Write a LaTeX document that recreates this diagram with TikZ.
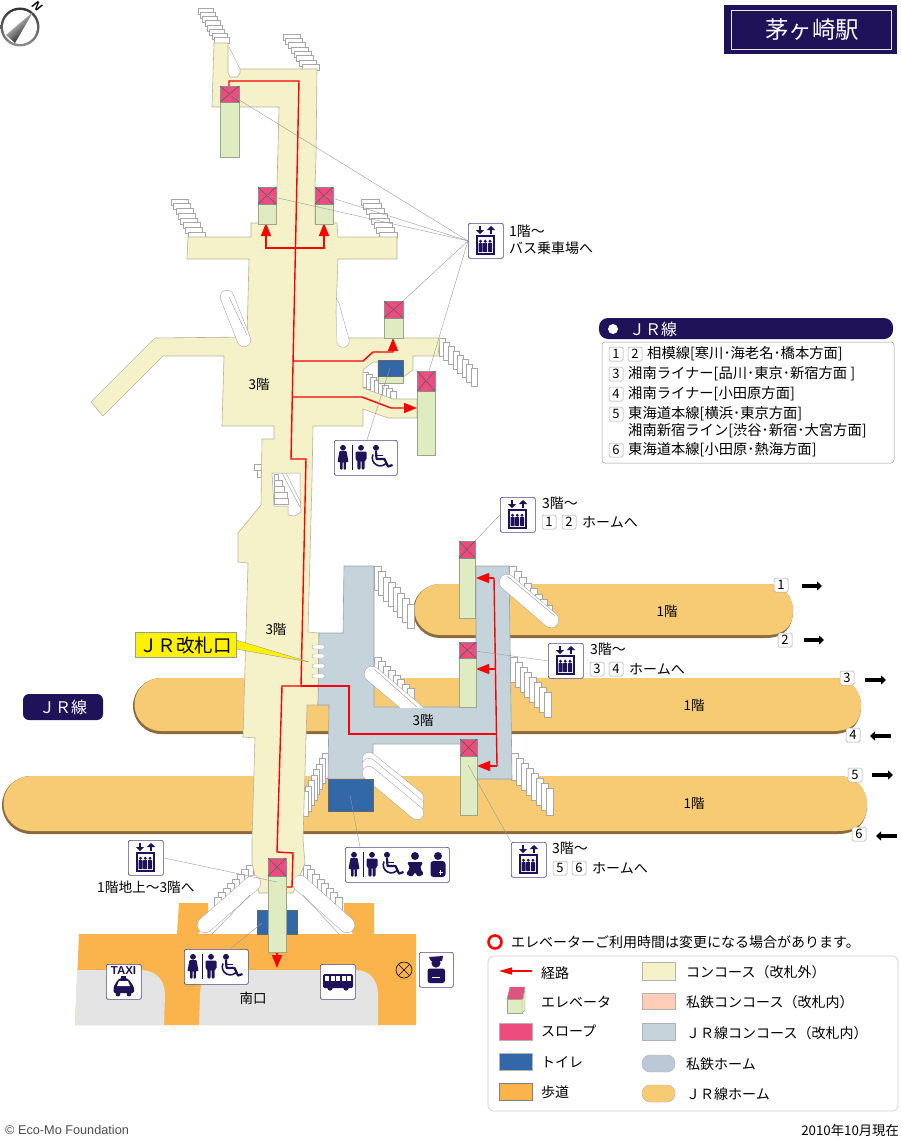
\documentclass[tikz,border=0pt]{standalone}
\usepackage{fontspec}
\setmainfont{Noto Sans CJK JP}
\newfontfamily\latinfont{Liberation Sans}
\usetikzlibrary{arrows.meta}

\definecolor{creamfill}{HTML}{F5F1C8}
\definecolor{creamedge}{HTML}{B5B39A}
\definecolor{jrfill}{HTML}{C5D3DB}
\definecolor{jredge}{HTML}{98A4AB}
\definecolor{homefill}{HTML}{F7CB73}
\definecolor{homeshadow}{HTML}{8B6B3E}
\definecolor{walkfill}{HTML}{FBB34C}
\definecolor{roadfill}{HTML}{E4E4E4}
\definecolor{roofpink}{HTML}{EC4C7E}
\definecolor{liftgreen}{HTML}{DFEBC0}
\definecolor{liftedge}{HTML}{9FA58C}
\definecolor{wcblue}{HTML}{3268A8}
\definecolor{navy}{HTML}{1F1258}
\definecolor{iconedge}{HTML}{4F4488}
\definecolor{peachfill}{HTML}{FFCDB8}
\definecolor{homegrey}{HTML}{BCC8D6}

\tikzset{
	creamarea/.style={fill=creamfill, draw=creamedge, line width=0.6pt},
	jrarea/.style={fill=jrfill, draw=jredge, line width=0.6pt},
	stepbox/.style={fill=white, draw=black!35, line width=0.5pt},
	liftbody/.style={fill=liftgreen, draw=liftedge, line width=0.6pt},
	liftroof/.style={fill=roofpink, draw=black!45, line width=0.5pt},
	wcarea/.style={fill=wcblue, draw=black!60, line width=0.5pt},
	route/.style={draw=red, line width=1.4pt},
	routetip/.style={route, -{Triangle[length=13pt,width=10pt]}},
	leader/.style={draw=black!40, line width=0.4pt},
	iconbox/.style={draw=iconedge, fill=white, rounded corners=2pt, line width=0.7pt, anchor=north west, inner sep=0pt},
	numbox/.style={draw=black!35, fill=white, rounded corners=1.5pt, line width=0.5pt, minimum width=14pt, minimum height=14pt, inner sep=0pt, font=\fontsize{13}{13}\selectfont},
	txt/.style={anchor=west, inner sep=0pt, font=\fontsize{14}{15}\selectfont},
	listtxt/.style={anchor=west, inner sep=0pt, font=\fontsize{14.3}{15}\selectfont},
	floortxt/.style={inner sep=0pt, font=\fontsize{13.5}{15}\selectfont},
	headarrow/.style={line width=3.6pt, -{Triangle[length=5pt,width=9pt]}},
}

\newcommand{\stairs}[7]{
	\foreach \i in {1,...,#5}
		\draw[stepbox] ({#1+(\i-1)*#3},{#2+(\i-1)*#4}) rectangle ++(#6,#7);
}
\newcommand{\escal}[5]{
	\draw[draw=black!35, line width=#5pt, line cap=round] (#1,#2) -- (#3,#4);
	\draw[draw=white, line width=#5pt-1pt, line cap=round] (#1,#2) -- (#3,#4);
}
\newcommand{\liftcar}[6]{
	\draw[liftbody] (#2,#5) rectangle (#3,#6);
	\draw[liftroof] (#2,#4) rectangle (#3,#5);
	\draw[draw=black!65, line width=0.5pt] (#2,#4) -- (#3,#5) (#2,#5) -- (#3,#4);
	\coordinate (#1) at ({(#2+#3)/2},{(#4+#5)/2});
}
\newcommand{\platform}[5]{
	\fill[homeshadow] (#1+#5,#3) -- (#2-#5,#3) .. controls (#2-#5/3,#3) and (#2,#4+#5*0.5) .. (#2,#4+#5) .. controls (#2,#4+#5*1.6) and (#2-#5/3,#4+2*#5) .. (#2-#5,#4+2*#5) -- (#1+#5,#4+2*#5) arc[start angle=90,end angle=270,radius=#5] -- cycle;
	\fill[homefill] (#1+#5,#3) -- (#2-#5,#3) .. controls (#2-#5/3,#3) and (#2,#4+#5*0.5) .. (#2,#4+#5-1) .. controls (#2,#4+#5*1.6) and (#2-#5/3,#4+2*#5-3) .. (#2-#5,#4+2*#5-3) -- (#1+#5,#4+2*#5-3) arc[start angle=90,end angle=270,radius=#5-1.5] -- cycle;
}
\newcommand{\figman}[2]{
	\fill[navy] (#1,#2+2.8) circle (2.9);
	\fill[navy,rounded corners=1.2pt] (#1-5.5,#2+6.5) -- (#1+5.5,#2+6.5) -- (#1+5.5,#2+15) -- (#1+3.6,#2+15) -- (#1+3.6,#2+24.5) -- (#1+0.5,#2+24.5) -- (#1+0.5,#2+15.5) -- (#1-0.5,#2+15.5) -- (#1-0.5,#2+24.5) -- (#1-3.6,#2+24.5) -- (#1-3.6,#2+15) -- (#1-5.5,#2+15) -- cycle;
}
\newcommand{\figwoman}[2]{
	\fill[navy] (#1,#2+2.8) circle (2.9);
	\fill[navy,rounded corners=0.7pt] (#1-3.5,#2+6) -- (#1+3.5,#2+6) -- (#1+5.5,#2+17) -- (#1+2.8,#2+17) -- (#1+2.8,#2+24.5) -- (#1+0.5,#2+24.5) -- (#1+0.5,#2+17) -- (#1-0.5,#2+17) -- (#1-0.5,#2+24.5) -- (#1-2.8,#2+24.5) -- (#1-2.8,#2+17) -- (#1-5.5,#2+17) -- cycle;
}
\newcommand{\figwheel}[2]{
	\fill[navy] (#1+6,#2+2.8) circle (3);
	\draw[navy,line width=2.2pt,line join=round] (#1+6,#2+6) -- (#1+6.5,#2+14) -- (#1+14.5,#2+14) -- (#1+18,#2+21.5) -- (#1+22.5,#2+20);
	\draw[navy,line width=1.8pt] (#1+6,#2+10.5) -- (#1+13,#2+10.5);
	\draw[navy,line width=1.6pt] (#1+3,#2+9.5) arc[start angle=205,end angle=35,radius=8];
}
\newcommand{\figlift}[2]{
	\draw[navy,line width=1.8pt,-{Triangle[length=4pt,width=8pt]}] (#1+12,#2+3) -- (#1+12,#2+11);
	\draw[navy,line width=1.8pt,-{Triangle[length=4pt,width=8pt]}] (#1+23,#2+11) -- (#1+23,#2+3);
	\draw[navy,line width=2pt] (#1+8.5,#2+13) rectangle (#1+26,#2+30.5);
	\foreach \k in {12.5,17.2,22} {
		\fill[navy] (#1+\k,#2+18.2) circle (1.6);
		\fill[navy,rounded corners=0.5pt] (#1+\k-2,#2+20) rectangle (#1+\k+2,#2+29);
	}
}
\newcommand{\iconlift}[3]{
	\node[iconbox, minimum width=35pt, minimum height=35pt] (#1) at (#2,#3) {};
	\figlift{#2}{#3}
}
\newcommand{\iconwc}[4]{
	\node[iconbox, minimum width=#4pt, minimum height=35pt] (#1) at (#2,#3) {};
	\figwoman{#2+9}{#3+5}
	\draw[navy,line width=1pt] (#2+18,#3+5) -- (#2+18,#3+29.5);
	\figman{#2+27}{#3+5}
	\figwheel{#2+36}{#3+5}
}

\begin{document}
\begin{tikzpicture}[x=1pt,y=-1pt]
	\useasboundingbox (0,0) rectangle (900,1140);

	\platform{413}{793}{584}{584}{27}
	\platform{133}{861}{678}{678}{28}
	\platform{2}{867}{776}{776}{29}

	\fill[walkfill] (79,934) -- (177,934) -- (179,903) -- (208,903) -- (208,920) -- (198,934) -- (353,934) -- (344,920) -- (344,903) -- (374,903) -- (374,934) -- (416,934) -- (416,1025) -- (75,1025) -- cycle;
	\fill[roadfill] (77,970) -- (140,970) .. controls (156,970) and (165,980) .. (165,995) -- (164,1025) -- (75,1025) -- cycle;
	\fill[roadfill] (199,1025) -- (200,995) .. controls (200,980) and (208,970) .. (220,970) -- (355,970) .. controls (370,970) and (378,980) .. (378,995) -- (378,1025) -- cycle;

	\stairs{198}{8}{2.3}{4.2}{8}{15}{6}
	\stairs{283}{34}{2.7}{4.3}{8}{17}{6}
	\stairs{171}{199}{2.4}{4.7}{8}{17}{6}
	\stairs{361}{199}{2.6}{4.7}{8}{18}{6}
	\stairs{439}{338}{4.6}{4.3}{8}{6}{18}
	\stairs{362}{372}{4}{2.7}{8}{6}{15}
	\draw[stepbox] (254,464) rectangle ++(8,6);
	\draw[stepbox] (257,470) rectangle ++(5,7);
	\stairs{374}{566}{4.7}{5.4}{8}{7}{24}
	\stairs{374}{657}{4.7}{4.5}{8}{7}{24}
	\stairs{509}{566}{5.2}{5.6}{8}{7}{20}
	\stairs{510}{657}{4.9}{5.1}{8}{7}{25}
	\stairs{511}{753}{5}{5}{8}{7}{27}
	\stairs{322}{753}{-2.8}{5.5}{8}{6}{25}
	\stairs{246}{865}{-4.6}{4.6}{8}{7}{20}
	\stairs{303}{865}{4.6}{4.6}{8}{7}{20}

	\draw[creamarea] (214,43) -- (228,43) -- (228,73) -- (230,77) -- (237,77) -- (240,73) -- (240,69) -- (317,69) -- (316,157) -- (315,187) -- (315,223) -- (337,223) -- (338,237) -- (397,237) -- (397,259) -- (338,259) -- (336,312) -- (337,338) -- (440,338) -- (438,356) -- (413,356) -- (413,370) -- (403,377) -- (403,383) -- (378,383) -- (378,362) -- (373,362) -- (363,370) -- (363,388) -- (393,399) -- (417,399) -- (417,418) -- (388,418) -- (363,409) -- (363,426) -- (313,426) -- (312,480) -- (308,632) -- (319,633) -- (318,705) -- (307,705) -- (303,840) -- (305,863) -- (293,893) -- (259,893) -- (252,863) -- (252,840) -- (255,738) -- (243,737) -- (248,563) -- (238,562) -- (238,533) -- (261,505) -- (262,439) -- (274,439) -- (274,426) -- (222,426) -- (224,356) -- (163,356) -- (103,416) -- (91,402) -- (155,338) -- (247,337) -- (249,259) -- (187,259) -- (188,237) -- (251,237) -- (251,223) -- (276,223) -- (277,187) -- (279,107) -- (212,107) -- cycle;
	\draw[leader] (229,47) -- (240,69);

	\draw[jrarea] (319,633) -- (343,633) -- (344,566) -- (374,566) -- (374,707) -- (476,707) -- (476,566) -- (509,566) -- (512,779) -- (477,779) -- (460,744) -- (373,744) -- (373,779) -- (328,779) -- (329,705) -- (318,705) -- cycle;

	\fill[white,draw=black!35,line width=0.5pt] (272,473) -- (300,473) -- (300,498) -- (301,512) -- (295,516) -- (288,515) -- (288,506) -- (274,506) -- cycle;
	\foreach \yy/\ww in {474/4,480/8,486/10,492/13,498/14}
		\draw[stepbox] (274,\yy) rectangle ++(\ww,6);
	\draw[leader] (282,473) -- (300,507) (286,473) -- (301,503);

	\escal{227}{297}{244}{340}{14}
	\draw[leader] (229,297) -- (247,335);
	\begin{scope}
		\clip (336.5,300) rectangle (360,350);
		\escal{333}{305}{343}{341}{13}
	\end{scope}
	\escal{507}{582}{551}{620}{16}
	\draw[leader] (507,576) -- (555,616);
	\begin{scope}
		\clip (350,640) rectangle (430,707);
		\escal{372}{674}{417}{712}{16}
		\draw[leader] (374,669) -- (417,707);
	\end{scope}
	\escal{369}{759}{417}{798}{14}
	\escal{369}{765}{417}{805}{14}
	\escal{369}{773}{417}{813}{14}
	\escal{253}{883}{205}{925}{16}
	\draw[leader] (250,895) -- (212,934);
	\escal{300}{883}{347}{925}{16}
	\draw[leader] (303,895) -- (339,934);

	\foreach \yy in {647,656,666,676}
		\draw[fill=white,draw=black!35,line width=0.4pt,rounded corners=2pt] (312,\yy-2) rectangle (325,\yy+2);

	\draw[wcarea] (328,779) rectangle (373,811);
	\draw[wcarea] (257,910) rectangle (297,934);
	\draw[liftbody] (378,376) rectangle (403,383);
	\draw[wcarea] (378,360) rectangle (403,376);

	\draw[route] (229,86) -- (229,81) -- (299,81) -- (291,459) -- (306,459) -- (301,686) -- (282,686) -- (277,852) -- (293,853) -- (292,887) -- (286,887);
	\draw[route] (301,686) -- (349,686) -- (349,734) -- (496,734);
	\draw[route] (266,235) -- (266,248) -- (324,248) -- (324,235);
	\draw[routetip] (266,236) -- (266,223);
	\draw[routetip] (324,236) -- (324,223);
	\draw[routetip] (293,361) -- (363,361) -- (373,352) -- (393,352) -- (393,338);
	\draw[routetip] (292,397) -- (362,397) -- (391,408) -- (417,408);
	\draw[route] (494,578) -- (497,766);
	\draw[routetip] (494,578) -- (476,578);
	\draw[routetip] (495,669) -- (476,669);
	\draw[routetip] (497,766) -- (477,766);
	\draw[routetip] (277,952) -- (277,968);

	\liftcar{liftnw}{220}{239}{86}{102}{157}
	\liftcar{liftwest}{258}{276}{187}{204}{224}
	\liftcar{lifteast}{315}{333}{187}{204}{224}
	\liftcar{liftup}{384}{403}{301}{318}{338}
	\liftcar{liftdown}{417}{435}{371}{391}{455}
	\liftcar{liftone}{459}{475}{541}{558}{618}
	\liftcar{lifttwo}{459}{476}{642}{658}{707}
	\liftcar{liftthree}{460}{477}{739}{756}{815}
	\liftcar{liftsouth}{268}{286}{858}{876}{952}

	\iconlift{iconbus}{468}{223}
	\iconlift{iconone}{500}{497}
	\iconlift{icontwo}{548}{643}
	\iconlift{iconthree}{511}{842}
	\iconlift{iconsouth}{128}{840}

	\iconwc{wcupper}{334}{440}{63}
	\iconwc{wcsouth}{184}{949}{64}
	\iconwc{wclower}{345}{847}{104}
	\fill[navy] (415,856) circle (4);
	\fill[navy,rounded corners=1.5pt] (407,862) -- (423,862) -- (420,868) -- (424,874) -- (418,877) -- (415,872) -- (412,877) -- (406,874) -- (410,868) -- cycle;
	\fill[navy] (438,856) circle (4);
	\fill[navy,rounded corners=3pt] (430.5,877) -- (430.5,861) -- (445.5,861) -- (445.5,877) -- cycle;
	\draw[white,line width=0.9pt] (438.5,872.5) -- (443,872.5) (440.7,870.3) -- (440.7,874.7);

	\node[iconbox, minimum width=35pt, minimum height=35pt] (icontaxi) at (106,964) {};
	\node[inner sep=0pt, font=\latinfont\bfseries\fontsize{11.5}{12}\selectfont, text=navy] (taxitext) at (123.5,971) {TAXI};
	\fill[navy,rounded corners=1.5pt] (113.5,987) -- (117,981) -- (120,978) -- (127,978) -- (130,981) -- (134,987) -- (134,993) -- (113.5,993) -- cycle;
	\fill[navy] (121,976) rectangle (126,978);
	\fill[white] (119,981) -- (128,981) -- (130,986) -- (117,986) -- cycle;
	\fill[navy] (118,994) circle (2.4) (129,994) circle (2.4);

	\node[iconbox, minimum width=35pt, minimum height=35pt] (iconcoach) at (320,964) {};
	\fill[navy,rounded corners=1.5pt] (323,974) rectangle (353,988);
	\foreach \k in {325,330.5,336,341.5,347}
		\fill[white] (\k,976) rectangle ++(4,5);
	\fill[navy] (330,988) circle (2.6) (346,988) circle (2.6);

	\node[iconbox, minimum width=34pt, minimum height=35pt] (iconstaff) at (419,952) {};
	\fill[navy] (436,963) circle (4.6);
	\fill[navy] (429,957) -- (443,956) -- (442,961) -- (431,961) -- cycle;
	\fill[navy,rounded corners=2.5pt] (427.5,983) -- (427.5,968.5) -- (445,968.5) -- (445,983) -- cycle;
	\draw[white,line width=0.6pt] (432,977) -- (440,977);
	\draw[black,line width=0.6pt] (404,970) circle (8);
	\draw[black,line width=0.6pt] (398.3,964.3) -- (409.7,975.7) (398.3,975.7) -- (409.7,964.3);

	\coordinate (wcupperarea) at (390,368);
	\coordinate (wclowerarea) at (350,795);
	\coordinate (wcsoutharea) at (262,923);
	\coordinate (wcupperfoot) at (367,440);
	\coordinate (wclowerfoot) at (360,847);
	\coordinate (wcsouthfoot) at (230,949);
	\coordinate (liftupcorner) at (403,301);
	\coordinate (liftonecorner) at (475,541);
	\coordinate (liftthreeend) at (468,765);
	\coordinate (liftsouthend) at (277,882);
	\draw[leader] (iconbus.west) -- (liftnw);
	\draw[leader] (iconbus.west) -- (liftwest);
	\draw[leader] (iconbus.west) -- (lifteast);
	\draw[leader] (iconbus.west) -- (liftupcorner);
	\draw[leader] (iconbus.west) -- (liftdown);
	\draw[leader] (iconone.west) -- (liftonecorner);
	\draw[leader] (icontwo.west) -- (lifttwo);
	\draw[leader] (iconthree.north west) -- (liftthreeend);
	\draw[leader] (iconsouth.east) -- (liftsouthend);
	\draw[leader] (wcupperfoot) -- (wcupperarea);
	\draw[leader] (wclowerfoot) -- (wclowerarea);
	\draw[leader] (wcsouthfoot) -- (wcsoutharea);

	\fill[yellow,draw=black!40,line width=0.4pt] (236,640) -- (309,662) -- (236,649) -- cycle;
	\node[draw=black!40, fill=yellow, minimum width=101pt, minimum height=25pt, inner sep=0pt, anchor=west, font=\fontsize{18.5}{19}\selectfont] (gatelabel) at (135,645) {ＪＲ改札口};

	\node[floortxt] (floornorth) at (259,384) {3階};
	\node[floortxt] (floormid) at (276,629) {3階};
	\node[floortxt] (floorjr) at (423,720) {3階};
	\node[floortxt] (homeone) at (667,611) {1階};
	\node[floortxt] (hometwo) at (694,705) {1階};
	\node[floortxt] (homethree) at (694,803) {1階};
	\node[floortxt] (southexit) at (253,998) {南口};

	\node[txt] (busa) at (509,231) {1階～};
	\node[txt] (busb) at (509,248) {バス乗車場へ};

	\node[txt] (onea) at (542,503) {3階～};
	\node[numbox] (onen) at (549,522) {1};
	\node[numbox] (onem) at (569,522) {2};
	\node[txt] (oneb) at (582,522) {ホームへ};
	\node[txt] (twoa) at (590,649) {3階～};
	\node[numbox] (twon) at (597,669) {3};
	\node[numbox] (twom) at (616,669) {4};
	\node[txt] (twob) at (629,669) {ホームへ};
	\node[txt] (threea) at (552,848) {3階～};
	\node[numbox] (threen) at (560,868) {5};
	\node[numbox] (threem) at (579,868) {6};
	\node[txt] (threeb) at (592,868) {ホームへ};
	\node[txt, font=\fontsize{13.7}{15}\selectfont] (southtext) at (97,887) {1階地上～3階へ};

	\node[numbox] (trackone) at (781,585) {1};
	\node[numbox] (tracktwo) at (785,640) {2};
	\node[numbox] (trackthree) at (847,678) {3};
	\node[numbox] (trackfour) at (853,735) {4};
	\node[numbox] (trackfive) at (855,775) {5};
	\node[numbox] (tracksix) at (859,834) {6};
	\draw[headarrow] (802,586) -- (822,586);
	\draw[headarrow] (804,640) -- (824,640);
	\draw[headarrow] (865,680) -- (886,680);
	\draw[headarrow] (891,736) -- (870,736);
	\draw[headarrow] (872,775) -- (893,775);
	\draw[headarrow] (897,836) -- (876,836);

	\node[fill=navy, rounded corners=6pt, minimum width=80pt, minimum height=26pt, inner sep=0pt, text=white, font=\fontsize{16}{17}\selectfont] (jrtag) at (63,707) {ＪＲ線};

	\fill[navy] (724,5) rectangle (897,54);
	\draw[white!90!navy,line width=0.7pt] (731,10) rectangle (891,49);
	\node[text=white, inner sep=0pt, font=\fontsize{23.5}{24}\selectfont] (stationname) at (812,30) {茅ヶ崎駅};

	\fill[navy,rounded corners=9pt] (599,318) rectangle (893,339);
	\fill[white] (613,329) circle (5);
	\node[txt, text=white, font=\fontsize{16}{17}\selectfont] (jrhead) at (629,329) {ＪＲ線};
	\draw[draw=black!40,line width=0.5pt,rounded corners=3pt] (602,342) rectangle (894,463);
	\node[numbox] (listone) at (616,354) {1};
	\node[numbox] (listtwo) at (635,354) {2};
	\node[listtxt] (lista) at (647,354) {相模線[寒川･海老名･橋本方面]};
	\node[numbox] (listthree) at (616,374) {3};
	\node[listtxt] (listb) at (628,374) {湘南ライナー[品川･東京･新宿方面 ]};
	\node[numbox] (listfour) at (616,394) {4};
	\node[listtxt] (listc) at (628,394) {湘南ライナー[小田原方面]};
	\node[numbox] (listfive) at (616,414) {5};
	\node[listtxt] (listd) at (628,414) {東海道本線[横浜･東京方面]};
	\node[listtxt] (liste) at (628,431) {湘南新宿ライン[渋谷･新宿･大宮方面]};
	\node[numbox] (listsix) at (616,450) {6};
	\node[listtxt] (listf) at (628,450) {東海道本線[小田原･熱海方面]};

	\draw[red,line width=2.6pt] (495,942) circle (6.5);
	\node[txt] (noticetext) at (511,942) {エレベーターご利用時間は変更になる場合があります。};
	\draw[draw=black!20,line width=0.6pt,rounded corners=6pt,fill=white] (488,956) rectangle (898,1111);

	\draw[red,line width=1.2pt,-{Triangle[length=13pt,width=7pt]}] (532,971) -- (499,971);
	\fill[roofpink,draw=black!40,line width=0.4pt] (510,987) -- (525,987) -- (523,999) -- (507,999) -- cycle;
	\draw[black!50,line width=0.3pt] (510,987) -- (523,999) (525,987) -- (507,999);
	\fill[liftgreen,draw=liftedge,line width=0.4pt] (507,999) rectangle (522,1013);
	\fill[liftgreen,draw=liftedge,line width=0.4pt] (522,1013) -- (525,1010) -- (525,987) -- (523,999) -- (522,999) -- cycle;
	\draw[fill=roofpink,draw=black!30] (499,1023) rectangle (532,1040);
	\draw[fill=wcblue,draw=black!30] (499,1053) rectangle (532,1070);
	\draw[fill=walkfill,draw=black!50] (499,1083) rectangle (532,1100);
	\draw[fill=creamfill,draw=black!30] (642,962) rectangle (675,980);
	\draw[fill=peachfill,draw=black!30] (642,993) rectangle (675,1009);
	\draw[fill=jrfill,draw=black!30] (642,1023) rectangle (675,1040);
	\draw[fill=homegrey,draw=black!30,rounded corners=8pt] (642,1055) rectangle (675,1072);
	\draw[fill=homefill,draw=black!30,rounded corners=8pt] (642,1085) rectangle (675,1102);

	\node[txt] (keyroute) at (541,973) {経路};
	\node[txt] (keylift) at (541,1002) {エレベータ};
	\node[txt] (keyslope) at (541,1031) {スロープ};
	\node[txt] (keywc) at (541,1062) {トイレ};
	\node[txt] (keywalk) at (541,1092) {歩道};
	\node[txt] (keycream) at (686,972) {コンコース（改札外）};
	\node[txt] (keypeach) at (686,1002) {私鉄コンコース（改札内）};
	\node[txt] (keyjr) at (686,1033) {ＪＲ線コンコース（改札内）};
	\node[txt] (keyhomeg) at (686,1064) {私鉄ホーム};
	\node[txt] (keyhomey) at (686,1094) {ＪＲ線ホーム};

	\node[anchor=west, inner sep=0pt, text=black!70, font=\latinfont\fontsize{12.7}{14}\selectfont] (ecomo) at (5,1130) {© Eco-Mo Foundation};
	\node[anchor=east, inner sep=0pt, font=\fontsize{13.3}{15}\selectfont] (asof) at (899,1130) {2010年10月現在};

	\shade[top color=black!80, bottom color=black!45] (20,27) circle (19.5);
	\fill[white] (20,27) circle (17);
	\shade[top color=black, bottom color=white, shading angle=220] (33,12) -- (6,35) -- (15,43) -- cycle;
	\node[rotate=-40, inner sep=0pt, font=\latinfont\itshape\bfseries\fontsize{12}{12}\selectfont] (northmark) at (37,6) {N};
\end{tikzpicture}
\end{document}
